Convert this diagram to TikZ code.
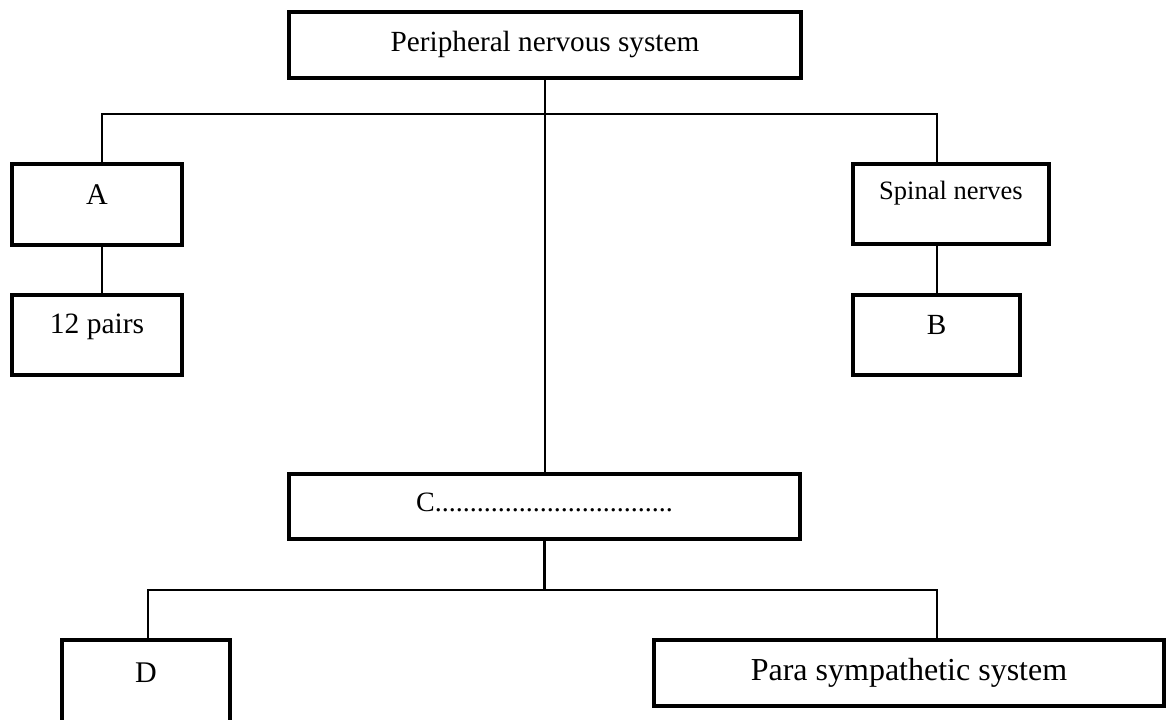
\documentclass[tikz,border=0pt]{standalone}
\usepackage{fontspec}
\setmainfont{Liberation Serif}
\usepackage{tikz}

\begin{document}
\begin{tikzpicture}[x=0.4pt, y=-0.4pt,
  box/.style={draw, line width=1.6pt, inner sep=0pt, text height=8pt, font=\fontsize{12}{14}\selectfont},
  link/.style={line width=0.9pt}]
\useasboundingbox (0,0) rectangle (1168,720);
% boxes
\node[box, minimum width=204.8pt, minimum height=26.4pt, text depth=3.2pt, font=\fontsize{11.7}{14}\selectfont](pns) at (545,45){Peripheral nervous system};
\node[box, minimum width=68pt, minimum height=32.4pt, text depth=8pt](a) at (97,204.5){A};
\node[box, minimum width=68pt, minimum height=32pt, text depth=9.6pt, font=\fontsize{11.8}{14}\selectfont](pairs) at (97,335){12 pairs};
\node[box, minimum width=78.4pt, minimum height=32pt, text depth=12pt, font=\fontsize{10.6}{13}\selectfont](spinal) at (951,204){Spinal nerves};
\node[box, minimum width=66.8pt, minimum height=32pt, text depth=8.8pt, font=\fontsize{11.7}{14}\selectfont](b) at (936.5,335){B};
\node[box, minimum width=204.4pt, minimum height=26pt, text depth=4pt, font=\fontsize{11.2}{13}\selectfont](c) at (544.5,506.5){C..................................};
\node[box, minimum width=67.2pt, minimum height=36pt, text depth=10.4pt](d) at (146,685){D};
\node[box, minimum width=204pt, minimum height=26.4pt, text depth=2.4pt, font=\fontsize{12.8}{15}\selectfont](para) at (909,673){Para sympathetic system};
% branch points
\coordinate (l1) at (102,114);
\coordinate (r1) at (937,114);
\coordinate (l2) at (148,590);
\coordinate (r2) at (937,590);
% connectors
\draw[link] (pns.south) -- (pns.south |- c.north);
\draw[link] (l1 |- a.north) -- (l1) -- (r1) -- (r1 |- spinal.north);
\draw[link] (l1 |- a.south) -- (l1 |- pairs.north);
\draw[link] (r1 |- spinal.south) -- (r1 |- b.north);
\draw[link] (c.south) -- (c.south |- l2);
\draw[link] (l2 |- d.north) -- (l2) -- (r2) -- (r2 |- para.north);
\end{tikzpicture}
\end{document}
